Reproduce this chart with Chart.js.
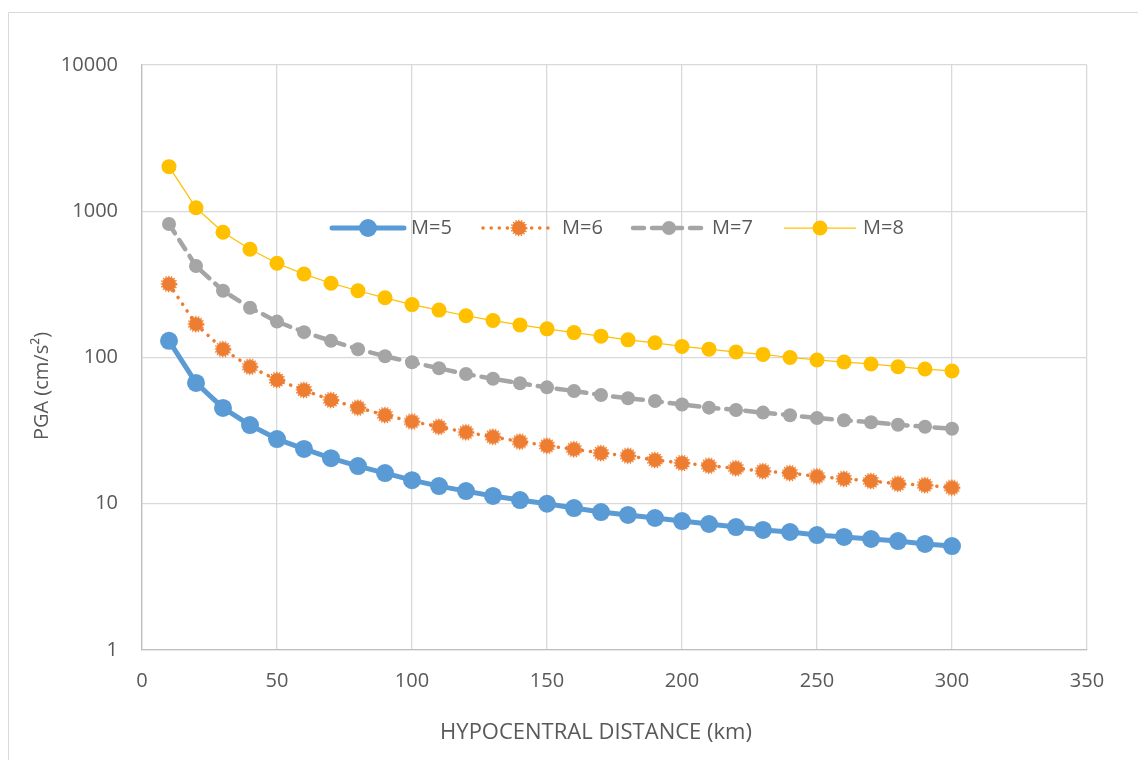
<!DOCTYPE html>
<html>
<head>
<meta charset="utf-8">
<title>PGA attenuation with hypocentral distance</title>
<script src="https://cdn.jsdelivr.net/npm/chart.js@4.4.1/dist/chart.umd.min.js"></script>
<style>
  html, body { margin: 0; padding: 0; background: #ffffff; }
  #wrap { width: 1138px; height: 760px; position: relative; }
  canvas { display: block; }
</style>
</head>
<body>
<div id="wrap"><canvas id="pga" width="1138" height="760"></canvas></div>
<script>
// Hypocentral distance (km)
const distances = [10, 20, 30, 40, 50, 60, 70, 80, 90, 100,
                   110, 120, 130, 140, 150, 160, 170, 180, 190, 200,
                   210, 220, 230, 240, 250, 260, 270, 280, 290, 300];

// PGA (cm/s²) for each magnitude
const pgaM5 = [130, 67, 45.2, 34.5, 27.7, 23.7, 20.5, 18.1, 16.2, 14.5,
               13.2, 12.2, 11.3, 10.6, 10.0, 9.35, 8.78, 8.38, 7.99, 7.62,
               7.27, 6.93, 6.62, 6.41, 6.11, 5.93, 5.74, 5.56, 5.31, 5.14];
const pgaM6 = [318, 169, 114, 86.5, 70.2, 59.9, 51.2, 45.4, 40.4, 36.5,
               33.6, 30.8, 28.7, 26.6, 24.9, 23.6, 22.2, 21.3, 19.9, 19.0,
               18.2, 17.5, 16.7, 16.2, 15.4, 14.8, 14.3, 13.7, 13.4, 12.9];
const pgaM7 = [818, 422, 286, 219, 176, 149, 130, 114, 102, 92.7,
               84.4, 77.1, 71.6, 66.6, 62.5, 59.0, 55.4, 52.6, 50.4, 47.7,
               45.4, 43.8, 42.0, 40.3, 38.6, 37.2, 36.1, 34.7, 33.6, 32.6];
const pgaM8 = [2018, 1057, 718, 550, 441, 372, 322, 286, 256, 230,
               211, 193, 179, 167, 157, 148, 140, 132, 126, 119,
               114, 109, 105, 100, 96.2, 93.1, 90.3, 86.5, 83.4, 80.9];

const seriesLabels = ['M=5', 'M=6', 'M=7', 'M=8'];
const yTickValues = [1, 10, 100, 1000, 10000];
const xTickValues = [0, 50, 100, 150, 200, 250, 300, 350];
const xTitle = 'HYPOCENTRAL DISTANCE (km)';
const yTitle = 'PGA (cm/s\u00B2)';

const FONT = "'Open Sans', 'Noto Sans', sans-serif";
const TEXT = '#595959';

// Marker with a slightly ragged dotted rim (used for the M=6 series)
function raggedMarker(color, r) {
  const size = Math.ceil(r * 2 + 6);
  const c = document.createElement('canvas');
  c.width = size; c.height = size;
  const g = c.getContext('2d');
  const cx = size / 2, cy = size / 2;
  g.fillStyle = color;
  g.beginPath(); g.arc(cx, cy, r, 0, Math.PI * 2); g.fill();
  g.strokeStyle = color;
  g.lineWidth = 1.5;
  g.setLineDash([1.3, 1.6]);
  g.beginPath(); g.arc(cx, cy, r + 0.6, 0, Math.PI * 2); g.stroke();
  return c;
}

const toXY = (ys) => distances.map((d, i) => ({ x: d, y: ys[i] }));

const datasets = [
  {
    label: seriesLabels[0], data: toXY(pgaM5),
    borderColor: '#5B9BD5', backgroundColor: '#5B9BD5',
    borderWidth: 5, pointRadius: 9, pointHoverRadius: 9,
    pointBackgroundColor: '#5B9BD5', pointBorderWidth: 0,
    borderCapStyle: 'round', borderJoinStyle: 'round'
  },
  {
    label: seriesLabels[1], data: toXY(pgaM6),
    borderColor: '#ED7D31', backgroundColor: '#ED7D31',
    borderWidth: 3.5, borderDash: [0.1, 8], borderCapStyle: 'round',
    pointStyle: raggedMarker('#ED7D31', 7), pointRadius: 8,
    pointBorderWidth: 0
  },
  {
    label: seriesLabels[2], data: toXY(pgaM7),
    borderColor: '#A5A5A5', backgroundColor: '#A5A5A5',
    borderWidth: 4.5, borderDash: [11, 8], borderCapStyle: 'round',
    pointRadius: 7, pointHoverRadius: 7,
    pointBackgroundColor: '#A5A5A5', pointBorderWidth: 0
  },
  {
    label: seriesLabels[3], data: toXY(pgaM8),
    borderColor: '#FFC000', backgroundColor: '#FFC000',
    borderWidth: 1.25,
    pointRadius: 7.5, pointHoverRadius: 7.5,
    pointBackgroundColor: '#FFC000', pointBorderWidth: 0
  }
];

// Frame, axis titles and the in-plot legend
const decorations = {
  id: 'decorations',
  beforeDraw(chart) {
    const ctx = chart.ctx;
    ctx.save();
    ctx.fillStyle = '#ffffff';
    ctx.fillRect(0, 0, chart.width, chart.height);
    ctx.strokeStyle = '#d9d9d9';
    ctx.lineWidth = 1;
    ctx.beginPath();
    ctx.moveTo(8.5, chart.height);
    ctx.lineTo(8.5, 12.5);
    ctx.lineTo(chart.width, 12.5);
    ctx.stroke();
    ctx.restore();
  },
  afterDraw(chart) {
    const ctx = chart.ctx;
    ctx.save();
    ctx.fillStyle = TEXT;
    ctx.textAlign = 'center';
    ctx.textBaseline = 'middle';
    ctx.font = "22px " + FONT;
    ctx.fillText(xTitle, 596, 733);

    ctx.font = "20px " + FONT;
    ctx.save();
    ctx.translate(42, 386);
    ctx.rotate(-Math.PI / 2);
    ctx.fillText(yTitle, 0, 0);
    ctx.restore();

    // legend
    const legendY = 228;
    const starts = [332, 483, 633, 784];
    const lineLen = 72;
    chart.data.datasets.forEach((ds, i) => {
      const x0 = starts[i];
      const cx = x0 + lineLen / 2;
      ctx.save();
      ctx.strokeStyle = ds.borderColor;
      ctx.lineWidth = ds.borderWidth;
      ctx.lineCap = ds.borderCapStyle || 'butt';
      ctx.setLineDash(ds.borderDash || []);
      ctx.beginPath();
      ctx.moveTo(x0, legendY);
      ctx.lineTo(x0 + lineLen, legendY);
      ctx.stroke();
      ctx.restore();
      if (ds.pointStyle) {
        const img = ds.pointStyle;
        ctx.drawImage(img, cx - img.width / 2, legendY - img.height / 2);
      } else {
        ctx.fillStyle = ds.pointBackgroundColor || ds.borderColor;
        ctx.beginPath();
        ctx.arc(cx, legendY, ds.pointRadius, 0, Math.PI * 2);
        ctx.fill();
      }
      ctx.fillStyle = TEXT;
      ctx.textAlign = 'left';
      ctx.fillText(ds.label, x0 + lineLen + 7, legendY);
    });
    ctx.restore();
  }
};

new Chart(document.getElementById('pga'), {
  type: 'line',
  data: { datasets },
  plugins: [decorations],
  options: {
    responsive: false,
    animation: false,
    devicePixelRatio: 1,
    layout: { padding: { left: 0, top: 65, right: 51, bottom: 0 } },
    plugins: {
      legend: { display: false },
      tooltip: { enabled: false },
      title: { display: false }
    },
    scales: {
      x: {
        type: 'linear', min: 0, max: 350,
        afterBuildTicks(scale) { scale.ticks = xTickValues.map(v => ({ value: v })); },
        afterFit(scale) { scale.height = 110; },
        ticks: {
          color: TEXT, padding: 19, maxRotation: 0,
          font: { family: FONT, size: 20 }
        },
        grid: { color: '#d9d9d9', lineWidth: 1.3, drawTicks: false },
        border: { color: '#bfbfbf', width: 1.3 }
      },
      y: {
        type: 'logarithmic', min: 1, max: 10000,
        afterBuildTicks(scale) { scale.ticks = yTickValues.map(v => ({ value: v })); },
        afterFit(scale) { scale.width = 142; },
        ticks: {
          color: TEXT, padding: 24,
          font: { family: FONT, size: 20 },
          callback: (v) => String(v)
        },
        grid: { color: '#d9d9d9', lineWidth: 1.3, drawTicks: false },
        border: { color: '#bfbfbf', width: 1.3 }
      }
    }
  }
});
</script>
</body>
</html>
